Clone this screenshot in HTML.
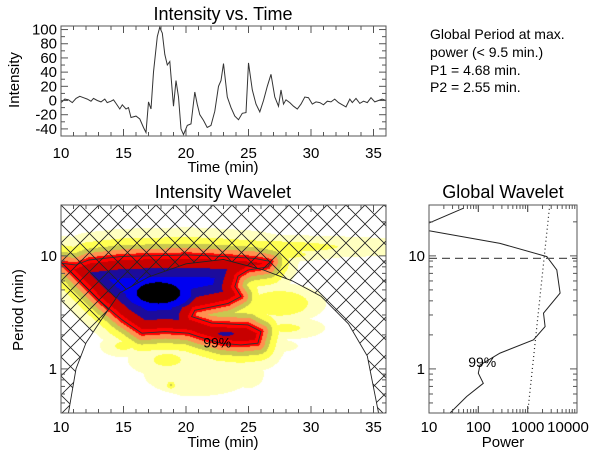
<!DOCTYPE html>
<html><head><meta charset="utf-8">
<style>
html,body{margin:0;padding:0;background:#fff;}
#wrap{position:relative;width:600px;height:457px;overflow:hidden;font-family:"Liberation Sans",sans-serif;}
canvas{position:absolute;left:0;top:0;}
svg{position:absolute;left:0;top:0;}
</style></head>
<body>
<div id="wrap">
<canvas id="heat" width="600" height="457"></canvas>
<svg id="fig" width="600" height="457" xmlns="http://www.w3.org/2000/svg">
<defs>
<pattern id="hatch" patternUnits="userSpaceOnUse" x="61" y="205" width="19" height="19">
<path d="M0,0 L19,19 M19,0 L0,19" stroke="#222" stroke-width="0.8" fill="none"/>
</pattern>
<clipPath id="wclip"><rect x="61" y="205" width="325" height="208"/></clipPath>
<clipPath id="gclip"><rect x="429" y="205" width="148" height="208"/></clipPath>
<clipPath id="tclip"><rect x="61" y="26" width="325" height="110"/></clipPath>
</defs>
<g id="topPanel"></g>
<g id="wav"></g>
<g id="glob"></g>
<g font-size="14" fill="#000">
<text x="430" y="39">Global Period at max.</text>
<text x="430" y="57">power (&lt; 9.5 min.)</text>
<text x="430" y="75">P1 = 4.68 min.</text>
<text x="430" y="92">P2 = 2.55 min.</text>
</g>
</svg>
</div>
<script>
// ---- Intensity time series ----
const timeVals = [10.0,10.3,10.6,10.9,11.2,11.5,11.8,12.1,12.4,12.6,12.9,13.2,13.5,13.7,14.0,14.2,14.4,14.7,14.9,15.2,15.4,15.6,16.0,16.3,16.6,16.8,17.0,17.2,17.4,17.7,17.9,18.1,18.3,18.5,18.7,19.0,19.2,19.4,19.6,19.8,20.1,20.4,20.7,20.9,21.1,21.4,21.7,22.0,22.3,22.6,22.8,23.0,23.3,23.6,23.9,24.2,24.5,24.8,25.0,25.3,25.6,25.9,26.2,26.5,26.8,27.1,27.4,27.6,27.8,28.0,28.3,28.6,28.9,29.2,29.5,29.8,30.1,30.4,30.7,31.0,31.3,31.6,31.9,32.2,32.5,32.8,33.1,33.3,33.6,33.9,34.2,34.5,34.8,35.1,35.4,35.7,36.0];
const intensityVals = [-3,2,1,-3,3,6,4,2,-1,3,0,-2,2,-3,-1,1,-4,-12,-6,-12,-10,-24,-22,-26,-38,-45,-2,-12,40,90,103,95,65,50,55,-8,28,5,-40,-48,-35,-33,12,-5,-20,-28,-38,-35,-15,20,28,52,5,-10,-22,-27,-18,-17,53,15,-5,-16,0,20,37,5,-8,15,-5,1,-3,-8,-12,-5,5,4,-5,-2,-3,-6,-1,-2,2,-3,-6,-9,2,-3,3,-4,-1,-3,4,-2,0,2,0];
const topYTicks = [-40,-20,0,20,40,60,80,100];
const timeTicks = [10,15,20,25,30,35];

// ---- Wavelet field: extra blobs (time, period, amplitude, widths) ----
const blobTime   = [17.8,21.0,22.0,27.5,28.0,18.5,23.0,20.0,25.0,18.8,21.0,27.0,15.0,23.2];
const blobPeriod = [4.7,10.3,12.0,3.8,2.3,1.2,1.3,0.75,0.9,0.72,0.9,1.6,1.6,2.05];
const blobAmp    = [10.0,2.4,1.3,1.5,1.1,1.1,0.9,0.8,0.7,1.7,0.8,0.8,1.1,5.6];
const blobWidthT = [2.6,6.5,14.0,2.5,2.5,2.5,2.0,1.5,1.5,0.3,4.5,2.0,1.5,1.3];
const blobWidthP = [0.14,0.05,0.08,0.12,0.08,0.12,0.1,0.12,0.15,0.03,0.2,0.06,0.08,0.04];
const levelThresholds = [0.5,1.0,1.6,2.2,3.0,4.0,5.0,6.0,8.0];
const levelColors = ['#ffffc0','#ffff50','#c8c850','#ff9050','#ff0000','#c80000','#1c0c9c','#0000f0','#000000'];

// ---- cone of influence ----
const coiTime   = [10.6,11.2,12.0,13.2,14.7,17.0,20.0,23.0,26.2,28.5,30.8,33.0,34.5,35.4];
const coiPeriod = [0.41,1.0,1.7,2.7,4.7,6.5,8.5,9.3,7.5,6.0,4.4,2.5,1.3,0.41];

// ---- 99% significance contour ----
const sigTime   = [10.11,11.17,12.23,14.88,20.2,22.8,25.5,26.8,26.55,24.96,24.16,23.9,24.4,23.37,20.7,20.45,22.04,24.96,26.0,25.75,24.4,22.8,20.98,20.2,18.33,16.47,14.88,13.03,11.17];
const sigPeriod = [8.6,8.3,9.2,9.9,10.2,9.9,9.5,8.9,8.0,7.5,6.6,5.35,4.37,3.8,3.3,2.9,2.54,2.45,2.14,1.69,1.63,1.69,1.93,2.07,2.14,2.07,2.72,4.07,6.56];

// ---- Global wavelet ----
const globalPower  = [50,10,10,275,2440,3890,4540,2090,2260,1310,275,108,100,126,58,27];
const globalPeriod = [26.4,19.5,16.7,12.9,9.86,7.5,4.68,3.11,2.37,1.81,1.38,1.08,0.917,0.746,0.57,0.41];
const globalSigPower  = [1000,2800];
const globalSigPeriod = [0.41,28];
const periodCut = 9.5;
const powerTicks = [10,100,1000,10000];
const periodTickLabels = [1,10];

const NS='http://www.w3.org/2000/svg';
function mk(parent,tag,attrs){const e=document.createElementNS(NS,tag);for(const k in attrs)e.setAttribute(k,attrs[k]);parent.appendChild(e);return e;}

const tL=61,tR=386,tT=26,tB=136;
const xTime=t=>tL+(t-10)/26*(tR-tL);
const yInt=v=>tT+(105-v)/155*(tB-tT);
const wT=205,wB=413;
const yPer=p=>wT+(1.45-Math.log10(p))/1.84*(wB-wT);
const gL=429,gR=577;
const xPow=w=>gL+(Math.log10(w)-1)/3*(gR-gL);

const topG=document.getElementById('topPanel');
let d='';timeVals.forEach((t,i)=>{d+=(i?'L':'M')+xTime(t).toFixed(1)+','+yInt(intensityVals[i]).toFixed(1);});
let ln=mk(topG,'path',{d:d,fill:'none',stroke:'#333','stroke-width':1,'clip-path':'url(#tclip)'});



function frameBox(g,x0,y0,x1,y1,name){const r=mk(g,'rect',{x:x0,y:y0,width:x1-x0,height:y1-y0,fill:'none',stroke:'#555','stroke-width':1});}
function tick(g,x1,y1,x2,y2){mk(g,'line',{x1:x1,y1:y1,x2:x2,y2:y2,stroke:'#555','stroke-width':1});}
function txt(g,x,y,s,anchor,size,name){const e=mk(g,'text',{x:x,y:y,'text-anchor':anchor,'font-size':size,fill:'#000'});e.textContent=s;return e;}

frameBox(topG,tL,tT,tR,tB,'intensity-plot-frame');
for(let t=10;t<=36;t++){const x=xTime(t);const L=(t%5==0)?7:4;tick(topG,x,tB,x,tB-L);tick(topG,x,tT,x,tT+L);}
timeTicks.forEach(t=>txt(topG,xTime(t),158,String(t),'middle',15,'top-x-tick-label'));
for(let v=-40;v<=100;v+=10){const y=yInt(v);const L=(v%20==0)?7:4;tick(topG,tL,y,tL+L,y);tick(topG,tR,y,tR-L,y);}
topYTicks.forEach(v=>txt(topG,57,yInt(v)+5,String(v),'end',15,'top-y-tick-label'));
txt(topG,223,172,'Time (min)','middle',15,'top-x-axis-title');
txt(topG,223,20,'Intensity vs. Time','middle',18,'top-title');
const yt=txt(topG,0,0,'Intensity','middle',15,'top-y-axis-title');yt.setAttribute('transform','translate(19,80) rotate(-90)');

const cv=document.getElementById('heat').getContext('2d');
const lgWP=blobPeriod.map(p=>Math.log10(p));
const polyX=sigTime.map(xTime), polyY=sigPeriod.map(yPer);
function inside(x,y){let c=false;for(let i=0,j=polyX.length-1;i<polyX.length;j=i++){if(((polyY[i]>y)!=(polyY[j]>y))&&(x<(polyX[j]-polyX[i])*(y-polyY[i])/(polyY[j]-polyY[i])+polyX[i]))c=!c;}return c;}
function segDist(x,y){let m=1e9;for(let i=0,j=polyX.length-1;i<polyX.length;j=i++){const ax=polyX[j],ay=polyY[j],bx=polyX[i],by=polyY[i];const dx=bx-ax,dy=by-ay;let u=((x-ax)*dx+(y-ay)*dy)/(dx*dx+dy*dy);u=Math.max(0,Math.min(1,u));const ex=ax+u*dx-x,ey=ay+u*dy-y;m=Math.min(m,Math.sqrt(ex*ex+ey*ey));}return m;}
for(let py=wT;py<wB;py++){
  const lp=1.45-(py+0.5-wT)/(wB-wT)*1.84;
  for(let px=tL;px<tR;px++){
    const t=10+(px+0.5-tL)/(tR-tL)*26;
    const dd=segDist(px+0.5,py+0.5);
    let v=inside(px+0.5,py+0.5)?Math.min(3.6+dd/9,7):3.6*Math.exp(-dd/14);
    for(let i=0;i<blobAmp.length;i++){const a=(t-blobTime[i])/blobWidthT[i],b=(lp-lgWP[i])/blobWidthP[i];v=Math.max(v,blobAmp[i]*Math.exp(-0.5*(a*a+b*b)));}
    let lev=-1;for(let k=0;k<levelThresholds.length;k++)if(v>=levelThresholds[k])lev=k;
    if(lev>=0){cv.fillStyle=levelColors[lev];cv.fillRect(px,py,1,1);}
  }
}

const wav=document.getElementById('wav');
let sd='';sigTime.forEach((t,i)=>{sd+=(i?'L':'M')+xTime(t).toFixed(1)+','+yPer(sigPeriod[i]).toFixed(1);});sd+='Z';
let sc=mk(wav,'path',{d:sd,fill:'none',stroke:'#333','stroke-width':0.9,'clip-path':'url(#wclip)'});


txt(wav,xTime(22.5),yPer(1.75)+6,'99%','middle',14,'wavelet-99-label');
let cd='M'+tL+','+wB;
coiTime.forEach((t,i)=>{cd+='L'+xTime(t).toFixed(1)+','+yPer(coiPeriod[i]).toFixed(1);});
cd+='L'+tR+','+wB+'L'+tR+','+wT+'L'+tL+','+wT+'Z';
let hz=mk(wav,'path',{d:cd,fill:'url(#hatch)',stroke:'none','clip-path':'url(#wclip)'});


let cl='';coiTime.forEach((t,i)=>{cl+=(i?'L':'M')+xTime(t).toFixed(1)+','+yPer(coiPeriod[i]).toFixed(1);});
let cc=mk(wav,'path',{d:cl,fill:'none',stroke:'#222','stroke-width':0.9,'clip-path':'url(#wclip)'});


frameBox(wav,tL,wT,tR,wB,'wavelet-plot-frame');
for(let t=10;t<=36;t++){const x=xTime(t);const L=(t%5==0)?7:4;tick(wav,x,wB,x,wB-L);tick(wav,x,wT,x,wT+L);}
timeTicks.forEach(t=>txt(wav,xTime(t),432,String(t),'middle',15,'wavelet-x-tick-label'));
function logTicks(g,x0,x1){[0.1,1,10].forEach(dec=>{for(let m=1;m<=9;m++){const p=dec*m;if(p<0.41||p>28)continue;const y=yPer(p);const L=m==1?7:4;tick(g,x0,y,x0+L,y);tick(g,x1,y,x1-L,y);}});}
logTicks(wav,tL,tR);
periodTickLabels.forEach(p=>txt(wav,57,yPer(p)+5,String(p),'end',15,'wavelet-y-tick-label'));
txt(wav,223,447,'Time (min)','middle',15,'wavelet-x-axis-title');
txt(wav,223,198,'Intensity Wavelet','middle',18,'wavelet-title');
const yw=txt(wav,0,0,'Period (min)','middle',15,'wavelet-y-axis-title');yw.setAttribute('transform','translate(23,310) rotate(-90)');

const glob=document.getElementById('glob');
let gd='';globalPower.forEach((w,i)=>{gd+=(i?'L':'M')+xPow(w).toFixed(1)+','+yPer(globalPeriod[i]).toFixed(1);});
let gl=mk(glob,'path',{d:gd,fill:'none',stroke:'#222','stroke-width':1,'clip-path':'url(#gclip)'});


let sdd='';globalSigPower.forEach((w,i)=>{sdd+=(i?'L':'M')+xPow(w).toFixed(1)+','+yPer(globalSigPeriod[i]).toFixed(1);});
let gs=mk(glob,'path',{d:sdd,fill:'none',stroke:'#222','stroke-width':1.2,'stroke-dasharray':'1,3','clip-path':'url(#gclip)'});


let dl=mk(glob,'line',{x1:gL,x2:gR,y1:yPer(periodCut),y2:yPer(periodCut),stroke:'#555','stroke-width':1.2,'stroke-dasharray':'8,5'});


txt(glob,xPow(120),yPer(1.15)+5,'99%','middle',14,'global-99-label');
frameBox(glob,gL,wT,gR,wB,'global-plot-frame');
[10,100,1000].forEach(dec=>{for(let m=1;m<=10;m++){const w=dec*m;const x=xPow(w);const L=(m==1||m==10)?7:4;tick(glob,x,wB,x,wB-L);tick(glob,x,wT,x,wT+L);}});
logTicks(glob,gL,gR);
powerTicks.forEach((w,i)=>txt(glob,i==3?568:xPow(w),432,String(w),'middle',15,'power-tick-label'));
periodTickLabels.forEach(p=>txt(glob,425,yPer(p)+5,String(p),'end',15,'global-y-tick-label'));
txt(glob,503,447,'Power','middle',15,'global-x-axis-title');
txt(glob,503,198,'Global Wavelet','middle',18,'global-title');
</script>
</body></html>
